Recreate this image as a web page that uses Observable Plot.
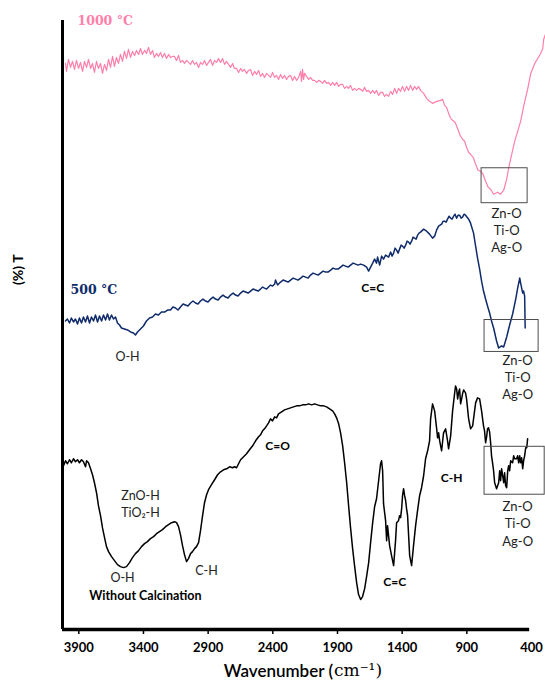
<!DOCTYPE html>
<html><head><meta charset="utf-8">
<script src="https://cdn.jsdelivr.net/npm/d3@7"></script>
<script src="https://cdn.jsdelivr.net/npm/@observablehq/plot@0.6"></script>
<style>html,body{margin:0;padding:0;background:#fff}#chart svg{display:block}</style>
</head><body><div id="chart"></div><script>
// ---- 1000 °C spectrum (wavenumber cm-1, transmittance a.u.) ----
const wn1000 = [4003,3995,3980,3964,3949,3933,3918,3902,3887,3871,3856,3840,3825,3809,3794,3779,3763,3748,3732,3717,3701,3686,3670,3655,3639,3624,3609,3593,3578,3562,3547,3531,3516,3500,3485,3469,3454,3438,3423,3408,3392,3377,3361,3346,3330,3315,3299,3284,3268,3253,3237,3222,3206,3191,3175,
3160,3145,3129,3114,3098,3083,3067,3052,3036,3021,3005,2990,2974,2959,2943,2928,2912,2897,2882,2866,2851,2835,2820,2804,2789,2773,2758,2742,2727,2711,2696,2680,2665,2649,2634,2619,2603,2588,2572,2557,2541,2526,2510,2495,2479,2464,2448,2433,2417,2402,2386,2371,2356,2340,2325,2309,2294,2278,2263,2247,2232,2216,2201,
2185,2178,2170,2162,2154,
2139,2123,2108,2092,2077,2061,2046,2031,2015,2000,1984,1969,1953,1938,1922,1907,1891,1876,1860,1845,1829,1814,1799,1783,1768,1752,1737,1721,1706,1690,1675,1659,1644,1628,1613,1598,1582,1567,1551,1536,1520,1505,1489,1474,1458,1443,1428,1412,1397,1381,1366,1350,1335,1319,1304,1288,1273,1258,
1234,1211,1188,1165,1134,1103,1087,1072,1056,1041,1025,1010,991,972,952,933,917,902,886,871,851,832,813,794,775,755,735,716,693,662,639,615,592,577,553,530,507,484,461,430,406,375,352,329,313,306,290];
const t1000 = [56.7,55.9,57.1,56.3,56.9,56.1,57.0,56.2,56.8,55.9,56.9,56.3,57.1,56.2,56.7,55.8,56.9,56.2,56.7,55.7,56.6,56.0,57.1,56.3,57.4,56.4,57.3,56.7,57.6,56.9,57.9,57.2,58.1,57.3,57.9,57.5,58.0,57.6,58.2,57.6,58.0,57.7,58.3,57.6,58.0,57.3,57.7,57.4,57.8,57.3,57.7,57.2,57.6,57.3,57.4,
57.4,57.0,57.5,56.8,57.0,56.7,57.0,56.8,56.6,57.0,56.6,56.8,56.3,56.8,56.6,57.0,56.5,56.8,57.1,56.5,57.0,56.8,57.2,56.8,57.2,56.6,56.9,56.6,56.3,56.7,56.2,56.2,55.8,56.2,55.9,56.1,55.7,56.0,56.1,55.5,55.9,55.6,56.0,55.4,55.7,55.3,55.7,55.5,55.3,55.8,55.3,55.5,55.1,55.6,55.2,55.5,55.1,55.4,55.5,55.0,55.4,55.0,55.3,
55.9,54.9,56.1,55.1,55.7,
55.4,55.1,55.3,55.0,55.0,54.8,55.0,54.9,54.7,55.0,54.7,54.8,54.5,54.8,54.5,54.8,54.4,54.6,54.6,54.2,54.4,54.2,54.5,54.0,54.2,54.0,54.2,54.1,53.9,54.3,53.9,54.0,53.7,54.0,53.7,54.0,53.5,53.8,53.8,53.4,53.6,53.4,53.9,53.6,54.2,53.7,54.2,53.9,54.4,53.9,54.4,54.0,54.5,54.0,54.4,54.1,54.4,54.0,
53.7,53.2,52.9,52.7,52.9,53.0,53.1,52.5,52.3,51.7,51.2,51.0,50.8,50.2,49.5,49.1,48.9,48.3,47.8,47.6,47.3,46.6,46.0,45.9,45.6,44.9,44.3,44.1,43.6,43.8,43.6,44.0,45.1,46.2,47.6,48.9,49.9,50.9,52.4,54.1,55.7,56.7,57.2,57.7,58.2,59.1,59.7];

// ---- 500 °C spectrum ----
const wn500 = [4003,3988,3972,3957,3941,3926,3910,3895,3879,3864,3848,3833,3817,3802,3786,3771,3755,3740,3724,3709,3693,3678,3663,3647,3632,3616,3601,3585,3570,3547,3523,3500,3477,3462,3446,3423,3400,3377,3353,3330,3307,3284,3261,3237,3214,3191,
3172,3152,3133,3114,3094,3075,3056,3036,3017,2998,2978,2959,2940,2920,2901,2881,2862,2843,2823,2804,2785,2765,2746,2727,2707,2688,2669,2649,2630,2611,2591,2572,2553,2533,2514,2495,2479,2464,2448,2433,2417,2402,2386,2379,2363,2340,2321,2301,2282,2263,2243,2224,2205,2185,2166,2147,2127,2108,2089,2069,2050,2031,2011,1992,1973,1953,1934,1915,1895,1876,1857,1837,1818,1799,1779,1760,1741,1721,
1698,1675,1659,1644,1628,1613,1598,1590,1574,1559,1544,1528,
1505,1489,1478,1466,1455,1443,1431,1420,1408,1397,1385,1373,1362,1350,1339,1327,1316,1304,1292,1281,1269,1258,
1234,1211,1188,1165,1149,1134,1118,
1095,1083,1072,1060,1049,1037,1025,1014,1002,991,979,967,956,944,933,921,910,898,886,
871,848,832,817,801,786,771,755,740,724,709,693,670,654,631,615,592,569,546,522,507,491,484,468,461,453,449];
const t500 = [30.9,31.1,30.7,31.2,30.8,31.1,30.6,31.2,30.7,31.3,30.8,31.4,30.7,31.3,30.9,31.5,30.8,31.4,30.9,31.5,31.0,31.6,31.0,31.5,31.1,31.3,30.7,30.5,30.2,30.1,30.0,29.8,29.7,29.5,29.8,30.1,30.4,30.9,31.2,31.3,31.6,31.5,31.8,31.8,32.0,32.0,
32.3,32.2,32.0,32.3,32.6,32.5,32.4,32.7,32.9,32.7,32.6,32.9,33.1,32.9,32.8,33.1,33.3,33.1,33.0,33.3,33.5,33.3,33.2,33.5,33.7,33.5,33.4,33.7,33.9,33.8,33.7,33.9,34.1,34.0,33.9,34.1,34.3,34.2,34.1,34.3,34.5,34.4,34.6,35.0,34.5,34.8,35.0,34.9,34.8,35.0,35.2,35.1,35.0,35.2,35.4,35.3,35.2,35.5,35.7,35.6,35.5,35.7,35.9,35.8,35.8,36.0,36.2,36.1,36.1,36.3,36.5,36.4,36.3,36.5,36.7,36.6,36.5,36.6,
36.5,36.3,35.9,36.3,36.7,37.1,36.7,37.3,36.5,37.4,37.1,37.5,
37.3,37.8,37.4,37.7,38.2,38.0,37.7,38.1,38.5,38.4,38.2,38.5,38.9,38.8,38.6,38.9,39.3,39.2,39.1,39.5,39.7,39.8,
40.1,39.9,39.6,39.2,39.4,40.0,40.4,
40.6,40.9,40.9,40.8,41.1,41.4,41.2,41.1,41.4,41.6,41.2,41.5,41.5,41.2,41.3,41.6,41.5,41.3,41.1,
40.7,39.7,38.4,37.2,36.1,34.9,33.9,33.1,32.4,31.7,30.9,30.2,28.9,28.2,28.4,28.3,29.3,30.5,31.6,33.1,34.2,35.2,34.7,33.7,33.9,33.4,30.2];

// ---- Without calcination spectrum ----
const wnRaw = [4018,4003,3988,3972,3957,3941,3926,3910,3895,3879,3864,3848,3840,3825,3809,3794,3779,3763,3748,3732,3717,3701,3686,3670,3647,3624,3601,3578,3554,3531,3508,3485,3462,3438,3415,3392,3369,3346,3322,3299,3276,3253,3229,3206,3183,3160,3144,3129,3114,3098,3083,3067,3052,3036,3021,3005,2990,2974,2959,2943,2928,2912,2897,2874,2850,2827,2804,2781,2757,2734,2711,2696,2680,2665,2649,2626,2603,2580,2556,2533,2510,2495,2479,2464,2448,2433,2418,2402,2386,2371,2356,2332,2309,2286,2263,2240,2216,2193,2170,2147,2123,2100,2077,2054,2031,2007,1984,1961,1938,1922,1907,1891,1876,1860,1845,1829,1814,1799,1783,1768,1752,1737,1721,1706,1690,1675,1659,1644,1628,1613,1598,1582,1567,1559,1551,1544,1528,1520,1513,1505,1497,1482,1466,1451,1443,1428,1420,1412,1404,1397,1389,1381,1373,1366,1358,1350,1342,1327,1312,1296,1281,1265,1250,1234,1219,1203,1188,1180,1165,1149,1134,1126,1118,1110,1095,1080,1064,1049,1041,1025,1010,994,987,979,971,964,956,948,940,933,925,910,902,886,871,855,840,832,817,801,786,771,763,755,747,740,732,724,716,709,701,693,685,670,654,646,639,631,623,615,608,600,592,584,577,569,561,546,538,530,515,507,499,491,484,476,468,461,453,445,437,430];
const tRaw = [16.4,16.9,16.6,17.0,16.7,17.1,16.8,17.0,16.7,17.0,16.8,16.3,16.9,16.7,16.1,15.5,14.7,13.7,12.4,11.4,10.2,9.2,8.3,7.8,7.3,6.9,6.5,6.3,6.2,6.3,6.7,7.2,7.6,7.9,8.3,8.6,8.8,9.1,9.3,9.6,9.8,10.0,10.3,10.5,10.7,10.8,10.7,10.3,9.5,8.4,7.5,6.8,7.1,7.6,7.8,8.1,8.3,8.7,9.9,11.4,12.7,13.5,14.0,14.5,15.0,15.5,15.8,16.0,16.1,16.3,16.2,16.3,16.2,16.6,17.0,17.3,17.6,18.0,18.4,18.9,19.3,19.5,19.9,20.1,20.4,20.7,21.1,20.9,21.3,21.2,21.6,21.8,22.0,22.1,22.2,22.3,22.4,22.4,22.5,22.5,22.6,22.5,22.6,22.5,22.4,22.4,22.3,22.1,21.9,21.6,21.2,20.6,19.7,18.4,16.7,14.7,12.4,10.2,8.1,6.4,4.7,3.5,3.0,3.3,4.1,5.3,6.7,8.7,10.7,12.3,13.1,14.9,16.6,16.9,15.9,12.6,10.9,8.9,10.4,9.4,8.4,7.4,6.4,8.9,10.7,10.9,11.4,11.2,12.1,13.4,14.1,13.4,12.9,12.1,11.4,9.4,7.4,6.4,8.4,10.4,11.9,13.4,14.2,15.4,17.1,17.9,18.9,21.1,22.6,21.9,20.2,19.2,19.7,18.9,17.9,19.7,20.1,18.9,18.1,19.4,21.9,23.7,24.4,24.1,23.1,23.7,24.1,22.6,23.1,23.6,24.0,23.7,23.1,21.1,20.1,20.4,21.9,22.7,23.2,23.1,21.9,20.4,19.9,18.7,19.3,20.1,20.2,19.8,18.7,17.4,16.7,15.9,14.7,14.1,14.7,15.9,14.9,16.1,15.4,14.7,15.7,14.4,14.2,15.9,16.4,15.9,16.9,16.7,17.4,17.1,17.1,17.4,16.7,17.4,16.7,17.2,16.1,16.9,17.4,18.2,18.2,19.1];

// ---- axis ----
const tickValues = [3900, 3400, 2900, 2400, 1900, 1400, 900, 400];
const axisSpan = [4026, 414];

// ---- highlighted M-O regions (wavenumber from/to, T from/to) ----
const boxWnFrom = [786, 763, 763];
const boxWnTo = [430, 345, 298];
const boxTFrom = [46.2, 31.0, 18.3];
const boxTTo = [42.7, 27.8, 13.5];

// ---- labels ----
const moLines = ["Zn-O", "Ti-O", "Ag-O"];
const moWn = [592, 507, 507];
const moT = [[41.6, 39.9, 38.2], [26.9, 25.2, 23.5], [12.3, 10.6, 8.8]];

const plainText = ["O-H", "ZnO-H", "TiO\u2082-H", "O-H", "C-H"];
const plainWn = [3523, 3423, 3423, 3562, 2913];
const plainT = [27.3, 13.4, 11.7, 5.2, 5.9];

const boldText = ["C=C", "C=O", "C=C", "C-H"];
const boldWn = [1628, 2363, 1458, 1018];
const boldT = [34.2, 18.4, 4.7, 15.2];

const sampleText = ["Without Calcination"];
const sampleWn = [3385];
const sampleT = [3.4];

const tempText = ["1000 \u00B0C", "500 \u00B0C"];
const tempWn = [3910, 3964];
const tempT = [60.9, 34.0];

const PINK = "#ff7fab", NAVY = "#0f2b6b", INK = "#000";

const rows = (wn, t) => wn.map((w, i) => ({wn: w, t: t[i]}));
const labelRows = (txt, wn, t) => txt.map((s, i) => ({text: s, wn: wn[i], t: t[i], i}));
const boxes = boxWnFrom.map((w, i) => ({x1: w, x2: boxWnTo[i], y1: boxTFrom[i], y2: boxTTo[i]}));
const moRows = moT.flatMap((ts, p) => ts.map((t, k) => ({text: moLines[k], wn: moWn[p], t})));

const chart = Plot.plot({
  width: 545, height: 686,
  marginLeft: 62, marginRight: 14, marginTop: 20, marginBottom: 57,
  style: {fontFamily: "Lato, 'Open Sans', sans-serif", background: "#fff", overflow: "visible"},
  x: {domain: [4026, 400]},
  y: {domain: [0, 61], axis: null},
  marks: [
    Plot.line(rows(wn1000, t1000), {x: "wn", y: "t", stroke: PINK, strokeWidth: 1.2}),
    Plot.line(rows(wn500, t500), {x: "wn", y: "t", stroke: NAVY, strokeWidth: 1.5}),
    Plot.line(rows(wnRaw, tRaw), {x: "wn", y: "t", stroke: INK, strokeWidth: 1.5}),
    Plot.rect(boxes, {x1: "x1", x2: "x2", y1: "y1", y2: "y2", fill: "none", stroke: "#4d4d4d", strokeWidth: 1}),
    Plot.text(moRows, {x: "wn", y: "t", text: "text", fontSize: 13, fill: "#222"}),
    Plot.text(labelRows(plainText, plainWn, plainT), {x: "wn", y: "t", text: "text", fontSize: 12.5, fill: "#222"}),
    Plot.text(labelRows(boldText, boldWn, boldT), {x: "wn", y: "t", text: "text", fontSize: 12, fontWeight: "bold", fill: "#000"}),
    Plot.text(labelRows(sampleText, sampleWn, sampleT), {x: "wn", y: "t", text: "text", fontSize: 12.5, fontWeight: "bold", fill: "#000"}),
    Plot.text(labelRows(tempText, tempWn, tempT), {x: "wn", y: "t", text: "text", fontSize: 12.5, fontWeight: "bold", textAnchor: "start",
      fontFamily: "'DejaVu Serif', serif", fill: d => d.i === 0 ? PINK : NAVY}),
    Plot.ruleX([axisSpan[0]], {stroke: "#000", strokeWidth: 3}),
    Plot.ruleY([0], {x1: axisSpan[0], x2: axisSpan[1], stroke: "#000", strokeWidth: 3.5}),
    Plot.axisX({ticks: tickValues.slice(0, -1), tickSize: 5, tickFormat: () => "", strokeWidth: 1.5, label: null}),
    Plot.axisX({ticks: tickValues, tickSize: 0, tickPadding: 13, fontSize: 13, fontWeight: "bold", fill: "#000",
      tickFormat: d => String(d), label: null}),
    Plot.text(["Wavenumber ("], {frameAnchor: "bottom", dx: 36, dy: 47, textAnchor: "end", fontSize: 17, fontWeight: 600, fill: "#000"}),
    Plot.text(["cm\u207B\u00B9)"], {frameAnchor: "bottom", dx: 37, dy: 46, textAnchor: "start", fontSize: 17, fontFamily: "'DejaVu Serif', serif", fill: "#000"}),
    Plot.text(["(%) T"], {frameAnchor: "left", rotate: -90, dx: -44, dy: -40, fontSize: 14, fontWeight: "bold", fill: "#000"})
  ]
});
document.getElementById("chart").appendChild(chart);
</script></body></html>
